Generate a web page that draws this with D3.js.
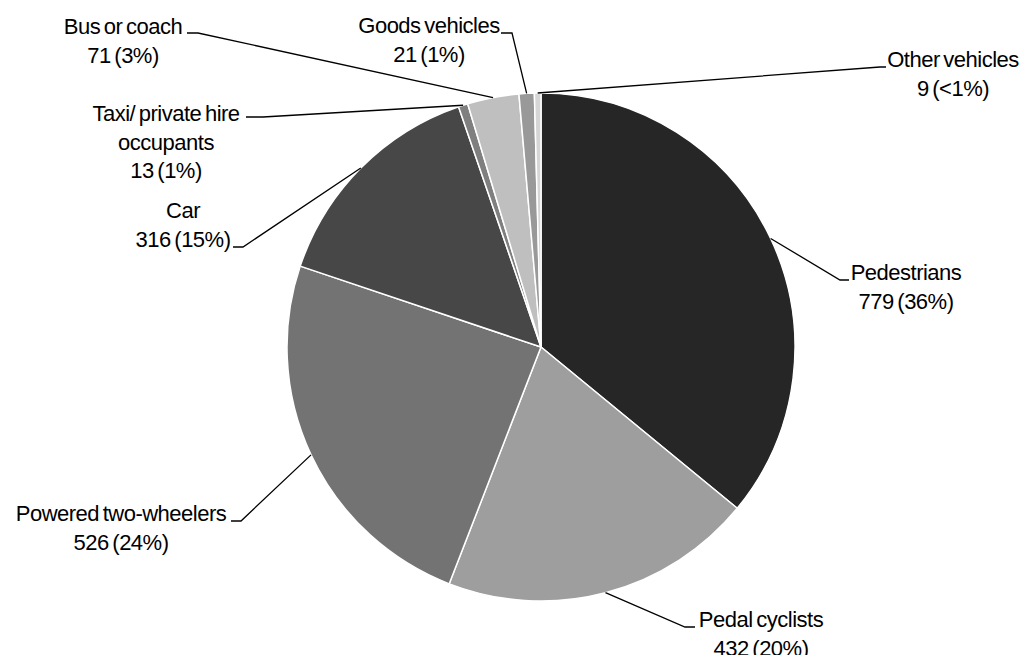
<!DOCTYPE html>
<html>
<head>
<meta charset="utf-8">
<script src="https://cdn.jsdelivr.net/npm/d3@7"></script>
<style>
  body { margin: 0; background: #fff; }
  text { font-family: "Liberation Sans", Arial, sans-serif; font-size: 22px; fill: #000; letter-spacing: -0.5px; word-spacing: -2px; }
</style>
</head>
<body>
<div id="chart"></div>
<script>
// casualties by road user type
const categories = ["Pedestrians", "Pedal cyclists", "Powered two-wheelers", "Car",
  "Taxi/ private hire occupants", "Bus or coach", "Goods vehicles", "Other vehicles"];
const values = [779, 432, 526, 316, 13, 71, 21, 9];
const sliceColors = ["#262626", "#9e9e9e", "#737373", "#474747", "#7f7f7f", "#bfbfbf", "#999999", "#d6d6d6"];

// how each label is split into lines
const labelLines = [["Pedestrians"], ["Pedal cyclists"], ["Powered two-wheelers"], ["Car"],
  ["Taxi/ private hire", "occupants"], ["Bus or coach"], ["Goods vehicles"], ["Other vehicles"]];

// label placement: text centre x, first baseline y, elbow x, end of short tick x
const labelLayout = [
  { tx: 906, ty: 280, ex: 840, hx: 849 },
  { tx: 761, ty: 627, ex: 685, hx: 695 },
  { tx: 121, ty: 521, ex: 241, hx: 231 },
  { tx: 183, ty: 218, ex: 243, hx: 233, ey: 247 },
  { tx: 166, ty: 121, ex: 263, hx: 246, ey: 117 },
  { tx: 123, ty: 34, ex: 198, hx: 187, ey: 33 },
  { tx: 429, ty: 33, ex: 512, hx: 501 },
  { tx: 953, ty: 67, ex: 880, hx: 886 }
];

const width = 1030, height = 655;
const cx = 541, cy = 347, radius = 254;
const lineGap = 28.5;

const total = d3.sum(values);
const pct = v => {
  const p = Math.round(v / total * 100);
  return p < 1 ? "<1%" : p + "%";
};

const data = categories.map((c, i) => ({ name: c, value: values[i], idx: i }));

const color = d3.scaleOrdinal().domain(categories).range(sliceColors);

const svg = d3.select("#chart").append("svg")
  .attr("width", width)
  .attr("height", height);

const pie = d3.pie().sort(null).value(d => d.value);
const arcs = pie(data);

const arc = d3.arc().innerRadius(0).outerRadius(radius);
const edgeArc = d3.arc().innerRadius(radius).outerRadius(radius);

const g = svg.append("g").attr("transform", `translate(${cx},${cy})`);

g.selectAll("path.slice")
  .data(arcs)
  .join("path")
  .attr("class", "slice")
  .attr("d", arc)
  .attr("fill", d => color(d.data.name))
  .attr("stroke", "#fff")
  .attr("stroke-width", 1.5)
  .attr("stroke-linejoin", "round");

// leader lines
svg.selectAll("polyline.leader")
  .data(arcs)
  .join("polyline")
  .attr("class", "leader")
  .attr("fill", "none")
  .attr("stroke", "#000")
  .attr("stroke-width", 1.3)
  .attr("points", d => {
    const L = labelLayout[d.data.idx];
    const [px, py] = edgeArc.centroid(d);
    const ey = L.ey !== undefined ? L.ey : L.ty;
    return [[cx + px, cy + py], [L.ex, ey], [L.hx, ey]].map(p => p.join(",")).join(" ");
  });

// labels
const labels = svg.selectAll("text.label")
  .data(arcs)
  .join("text")
  .attr("class", "label")
  .attr("text-anchor", "middle");

labels.each(function(d) {
  const L = labelLayout[d.data.idx];
  const lines = labelLines[d.data.idx].concat([`${d.data.value} (${pct(d.data.value)})`]);
  const t = d3.select(this);
  lines.forEach((ln, k) => {
    t.append("tspan")
      .attr("x", L.tx)
      .attr("y", L.ty + k * lineGap)
      .text(ln);
  });
});
</script>
</body>
</html>
